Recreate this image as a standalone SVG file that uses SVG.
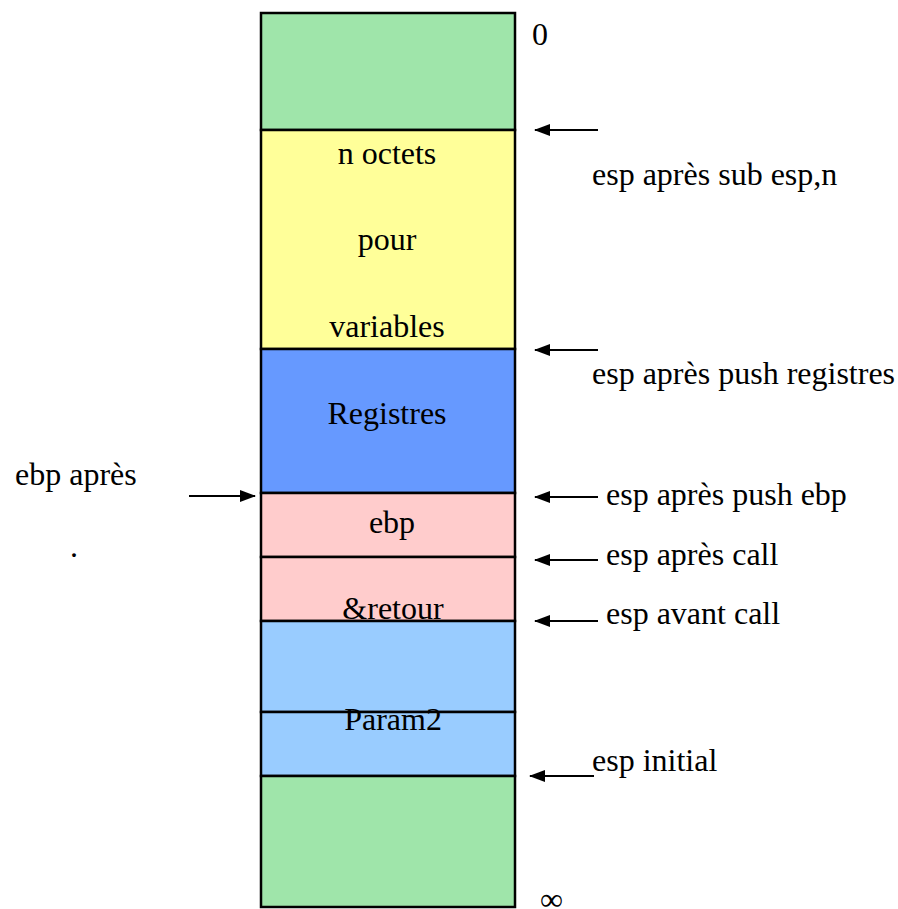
<svg xmlns="http://www.w3.org/2000/svg" width="898" height="909" viewBox="0 0 898 909">
<style>
.t{font-family:"Liberation Serif","Times New Roman","DejaVu Serif",serif;font-size:32px;fill:#000}
.c{text-anchor:middle}
.b{stroke:#000;stroke-width:2.5}
.a{stroke:#000;stroke-width:2;fill:none}
</style>
<defs>
<marker id="ah" viewBox="0 0 16 12" refX="15" refY="6" markerWidth="16" markerHeight="12" markerUnits="userSpaceOnUse" orient="auto">
<path d="M0,0 L16,6 L0,12 Z" fill="#000"/>
</marker>
</defs>
<rect width="898" height="909" fill="#fff"/>
<g id="top"><rect class="b" x="261" y="13" width="254" height="117" fill="#9FE5AA"/></g>
<g id="vars"><rect class="b" x="261" y="130" width="254" height="219" fill="#FFFF99"/>
<text class="t c" x="387" y="164">n octets</text>
<text class="t c" x="387" y="250">pour</text>
<text class="t c" x="387" y="337">variables</text></g>
<g id="regs"><rect class="b" x="261" y="349" width="254" height="144" fill="#6699FF"/>
<text class="t c" x="387" y="424">Registres</text></g>
<g id="ebp"><rect class="b" x="261" y="493" width="254" height="64" fill="#FFCCCC"/>
<text class="t c" x="392" y="533">ebp</text></g>
<g id="retour"><rect class="b" x="261" y="557" width="254" height="64" fill="#FFCCCC"/></g>
<g id="param1"><rect class="b" x="261" y="621" width="254" height="91" fill="#99CCFF"/></g>
<g id="param2"><rect class="b" x="261" y="712" width="254" height="64" fill="#99CCFF"/></g>
<text class="t c" x="393" y="619">&amp;retour</text>
<text class="t c" x="393" y="730">Param2</text>
<g id="bottom"><rect class="b" x="261" y="776" width="254" height="131" fill="#9FE5AA"/></g>
<text class="t" x="532" y="45">0</text>
<text class="t" x="540" y="910">∞</text>
<g id="connectors">
<line class="a" x1="598" y1="130" x2="535" y2="130" marker-end="url(#ah)"/>
<line class="a" x1="598" y1="350" x2="535" y2="350" marker-end="url(#ah)"/>
<line class="a" x1="598" y1="497" x2="535" y2="497" marker-end="url(#ah)"/>
<line class="a" x1="598" y1="560" x2="535" y2="560" marker-end="url(#ah)"/>
<line class="a" x1="598" y1="621" x2="535" y2="621" marker-end="url(#ah)"/>
<line class="a" x1="594" y1="776" x2="530" y2="776" marker-end="url(#ah)"/>
<line class="a" x1="189" y1="496" x2="255" y2="496" marker-end="url(#ah)"/>
</g>
<text class="t" x="592" y="185">esp après sub esp,n</text>
<text class="t" x="592" y="384">esp après push registres</text>
<text class="t" x="606" y="505">esp après push ebp</text>
<text class="t" x="606" y="565">esp après call</text>
<text class="t" x="606" y="624">esp avant call</text>
<text class="t" x="592" y="771">esp initial</text>
<text class="t" x="15" y="485">ebp après</text>
<text class="t" x="70" y="557">.</text>
</svg>
